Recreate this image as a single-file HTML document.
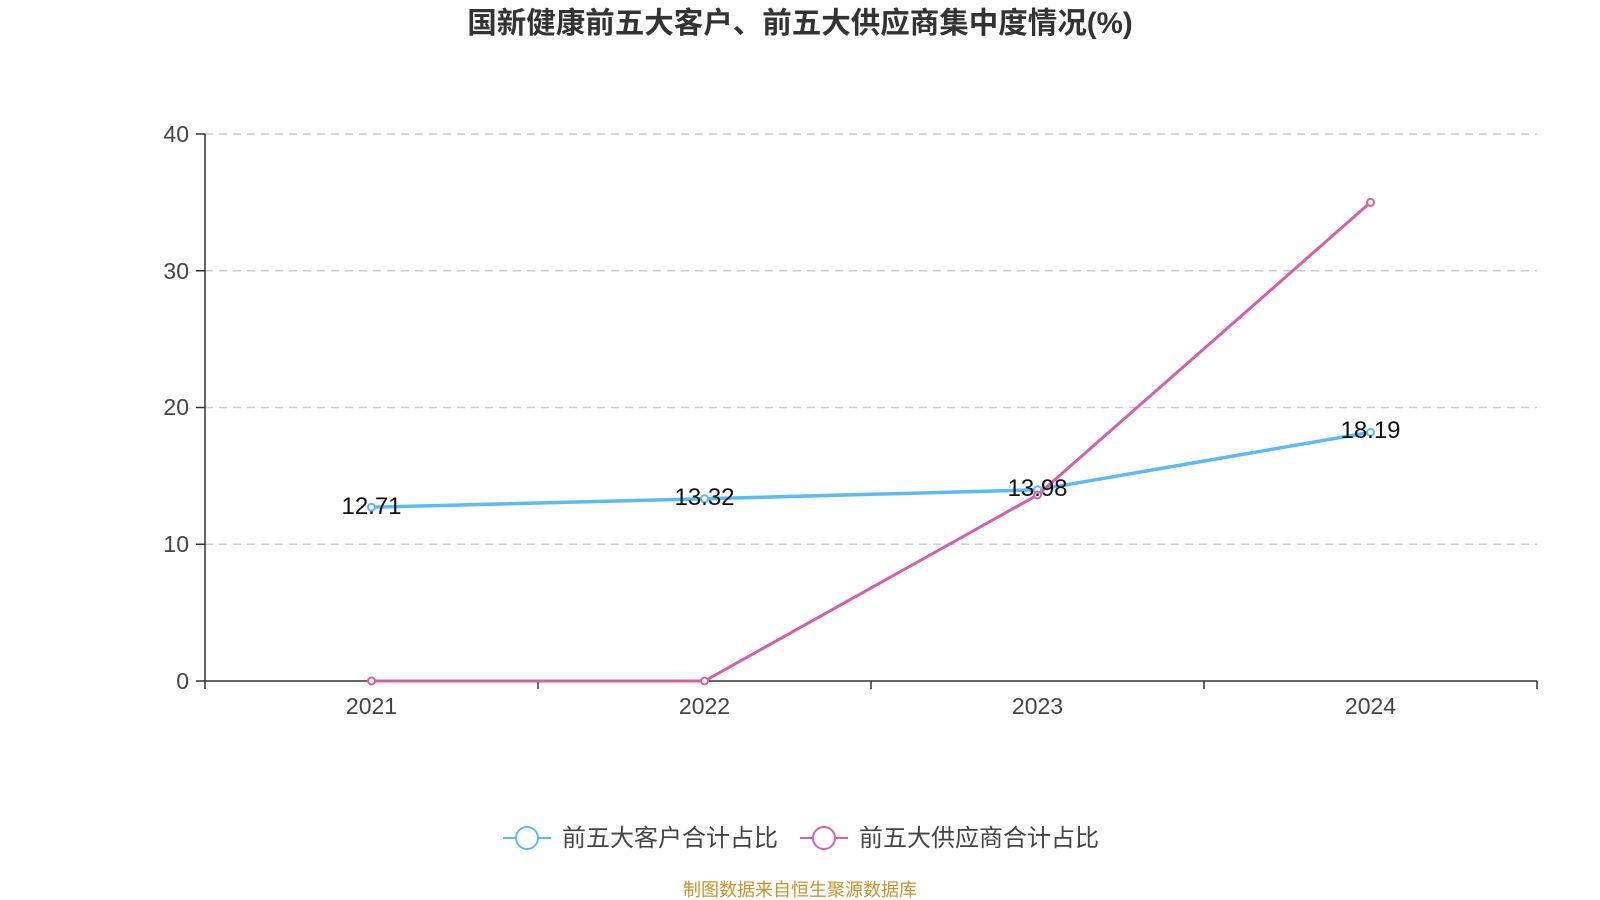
<!DOCTYPE html>
<html><head><meta charset="utf-8"><style>
body{margin:0;background:#fff;}
svg{display:block;font-family:"Liberation Sans","Noto Sans CJK SC",sans-serif;}
</style></head><body>
<svg width="1600" height="900" viewBox="0 0 1600 900" xmlns="http://www.w3.org/2000/svg">
<text x="800" y="33" text-anchor="middle" font-size="29.5" font-weight="bold" fill="#333">国新健康前五大客户、前五大供应商集中度情况(%)</text>
<g stroke="#ccc" stroke-width="1.5" stroke-dasharray="8,6">
<line x1="205" y1="134" x2="1537" y2="134"/>
<line x1="205" y1="270.75" x2="1537" y2="270.75"/>
<line x1="205" y1="407.5" x2="1537" y2="407.5"/>
<line x1="205" y1="544.25" x2="1537" y2="544.25"/>
</g>
<g stroke="#333" stroke-width="1.5">
<line x1="205" y1="134" x2="205" y2="681"/>
<line x1="205" y1="681" x2="1537" y2="681"/>
<line x1="196" y1="134" x2="205" y2="134"/>
<line x1="196" y1="270.75" x2="205" y2="270.75"/>
<line x1="196" y1="407.5" x2="205" y2="407.5"/>
<line x1="196" y1="544.25" x2="205" y2="544.25"/>
<line x1="196" y1="681" x2="205" y2="681"/>
<line x1="205" y1="681" x2="205" y2="689"/>
<line x1="538" y1="681" x2="538" y2="689"/>
<line x1="871" y1="681" x2="871" y2="689"/>
<line x1="1204" y1="681" x2="1204" y2="689"/>
<line x1="1537" y1="681" x2="1537" y2="689"/>
</g>
<g font-size="23" fill="#444" text-anchor="end">
<text x="189" y="142">40</text><text x="189" y="279">30</text><text x="189" y="415">20</text><text x="189" y="552">10</text><text x="189" y="689">0</text>
</g>
<g font-size="23" fill="#444" text-anchor="middle">
<text x="371.5" y="714">2021</text><text x="704.5" y="714">2022</text><text x="1037.5" y="714">2023</text><text x="1370.5" y="714">2024</text>
</g>
<polyline fill="none" stroke="#5bbcf3" stroke-width="3.5" points="371.5,507.2 704.5,498.8 1037.5,489.8 1370.5,432.3"/>
<polyline fill="none" stroke="#d55fa8" stroke-width="3" points="371.5,681 704.5,681 1037.5,495.0 1370.5,202.4"/>
<g fill="#fff" stroke="#5bbcf3" stroke-width="2">
<circle cx="371.5" cy="507.2" r="3.5"/><circle cx="704.5" cy="498.8" r="3.5"/><circle cx="1037.5" cy="489.8" r="3.5"/><circle cx="1370.5" cy="432.3" r="3.5"/>
</g>
<g fill="#fff" stroke="#d55fa8" stroke-width="2">
<circle cx="371.5" cy="681" r="3.5"/><circle cx="704.5" cy="681" r="3.5"/><circle cx="1037.5" cy="495" r="3.5"/><circle cx="1370.5" cy="202.4" r="3.5"/>
</g>
<g font-size="24" fill="#111" text-anchor="middle">
<text x="371.5" y="514">12.71</text><text x="704.5" y="505">13.32</text><text x="1037.5" y="496">13.98</text><text x="1370.5" y="438">18.19</text>
</g>
<line x1="503" y1="838" x2="551" y2="838" stroke="#5bbcf3" stroke-width="2"/>
<circle cx="527" cy="838" r="11" fill="#fff" stroke="#5bbcf3" stroke-width="2"/>
<text x="562" y="846" font-size="24" fill="#444">前五大客户合计占比</text>
<line x1="800" y1="838" x2="848" y2="838" stroke="#d55fa8" stroke-width="2"/>
<circle cx="824" cy="838" r="11" fill="#fff" stroke="#d55fa8" stroke-width="2"/>
<text x="859" y="846" font-size="24" fill="#444">前五大供应商合计占比</text>
<text x="800" y="896" text-anchor="middle" font-size="18" fill="#c8922a">制图数据来自恒生聚源数据库</text>
</svg>
</body></html>
